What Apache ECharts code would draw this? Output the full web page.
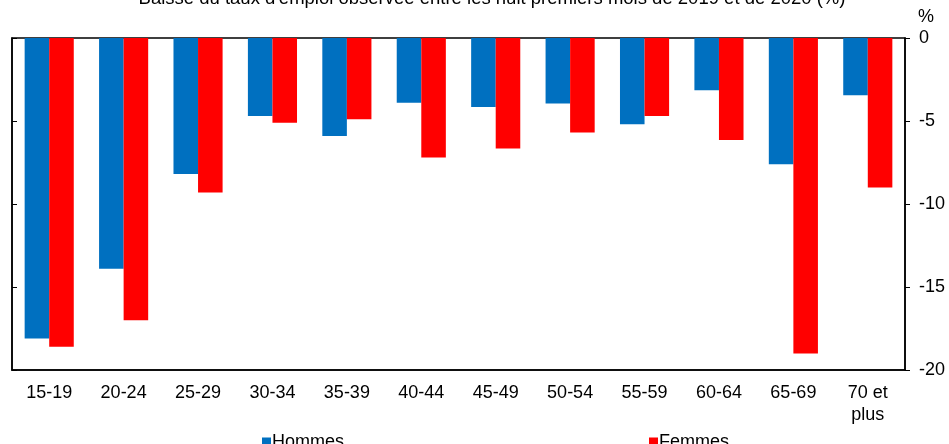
<!DOCTYPE html>
<html>
<head>
<meta charset="utf-8">
<script src="https://cdn.jsdelivr.net/npm/echarts@6/dist/echarts.min.js"></script>
<style>html,body{margin:0;padding:0;background:#fff}#c{width:949px;height:444px}</style>
</head>
<body>
<div id="c"></div>
<script>
var titleText = "Baisse du taux d'emploi observée entre les huit premiers mois de 2019 et de 2020 (%)";
var categories = ['15-19','20-24','25-29','30-34','35-39','40-44','45-49','50-54','55-59','60-64','65-69','70 et\nplus'];
var hommes = [-18.1,-13.9,-8.2,-4.7,-5.9,-3.9,-4.15,-3.95,-5.2,-3.15,-7.6,-3.45];
var femmes = [-18.6,-17.0,-9.3,-5.1,-4.9,-7.2,-6.65,-5.7,-4.7,-6.15,-19.0,-9.0];
var yTicks = {min:-20, max:0, interval:5};

var font = 'Liberation Sans, Arial, sans-serif';
var chart = echarts.init(document.getElementById('c'), null, {renderer:'canvas'});
chart.setOption({
  animation:false,
  backgroundColor:'#fff',
  textStyle:{fontFamily:font},
  title:{text:titleText, left:487, textAlign:'center', top:-16, textStyle:{fontSize:18.5, fontWeight:'normal', color:'#000', fontFamily:font}},
  graphic:[{type:'text', left:918, top:8, style:{text:'%', fontSize:18, fill:'#000', fontFamily:font}}],
  legend:[
    {data:['Hommes'], left:257, top:428, icon:'rect', itemWidth:9, itemHeight:9, itemGap:0, textStyle:{fontSize:18, color:'#000', fontFamily:font, padding:[0,0,0,-4]}},
    {data:['Femmes'], left:644, top:428, icon:'rect', itemWidth:9, itemHeight:9, itemGap:0, textStyle:{fontSize:18, color:'#000', fontFamily:font, padding:[0,0,0,-4]}}
  ],
  grid:{left:12, right:44, top:38, bottom:74, show:true, borderColor:'#000', borderWidth:1.5, containLabel:false},
  xAxis:{type:'category', data:categories, position:'bottom',
    axisLine:{onZero:false, lineStyle:{color:'#000', width:1.5}},
    axisTick:{inside:true, length:5, lineStyle:{color:'#000'}},
    axisLabel:{color:'#000', fontSize:18, margin:12, lineHeight:22, interval:0, fontFamily:font}},
  yAxis:[
    {type:'value', position:'right', min:yTicks.min, max:yTicks.max, interval:yTicks.interval,
      axisLine:{show:true, lineStyle:{color:'#000', width:1.5}},
      axisTick:{show:true, length:5, lineStyle:{color:'#000'}},
      splitLine:{show:false},
      axisLabel:{color:'#000', fontSize:18, margin:14, fontFamily:font}},
    {type:'value', position:'left', min:yTicks.min, max:yTicks.max, interval:yTicks.interval,
      axisLine:{show:true, lineStyle:{color:'#000', width:1.5}},
      axisTick:{show:true, inside:true, length:5, lineStyle:{color:'#000'}},
      splitLine:{show:false}, axisLabel:{show:false}}
  ],
  series:[
    {name:'Hommes', type:'bar', data:hommes, barGap:'0%', barCategoryGap:'34%', itemStyle:{color:'#0070C0'}},
    {name:'Femmes', type:'bar', data:femmes, barGap:'0%', barCategoryGap:'34%', itemStyle:{color:'#FF0000'}}
  ]
});
</script>
</body>
</html>
